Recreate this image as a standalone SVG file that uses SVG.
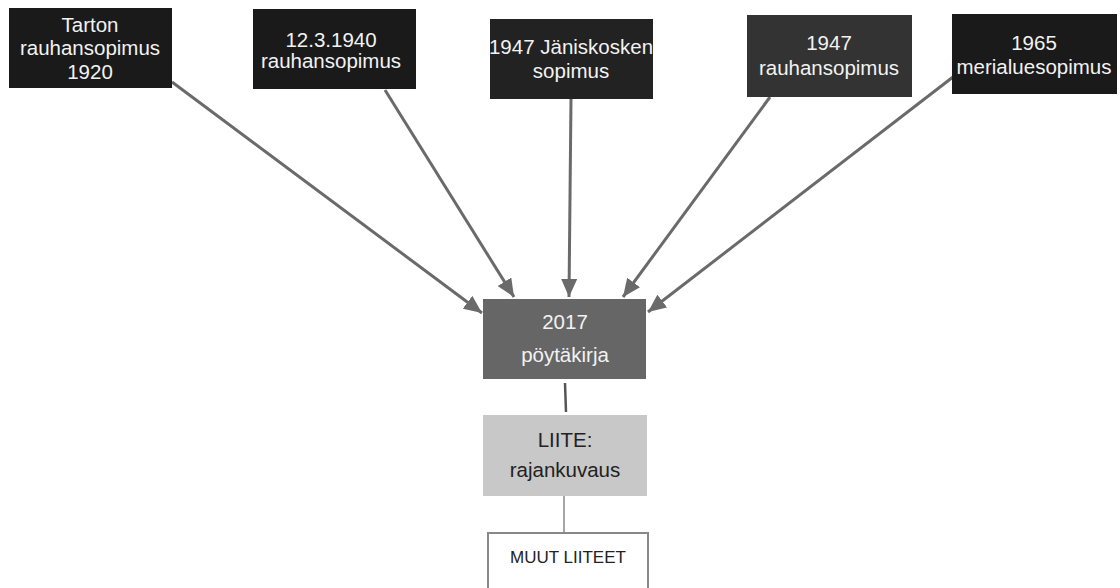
<svg xmlns="http://www.w3.org/2000/svg" width="1120" height="588" viewBox="0 0 1120 588">
<style>
.t{font-family:"Liberation Sans",Arial,sans-serif;font-size:20.5px;text-anchor:middle}
.w{fill:#f2f2f2}
.d{fill:#222}
.c{stroke:#6a6a6a;stroke-width:3;fill:none}
</style>
<defs>
<marker id="ah" markerUnits="userSpaceOnUse" markerWidth="20" markerHeight="16" refX="18" refY="8" orient="auto">
<path d="M0,0 L18,8 L0,16 Z" fill="#6a6a6a"/>
</marker>
</defs>
<rect width="1120" height="588" fill="#fff"/>
<g id="connectors">
<line class="c" x1="172" y1="82" x2="482" y2="313" marker-end="url(#ah)"/>
<line class="c" x1="385" y1="90" x2="514" y2="297" marker-end="url(#ah)"/>
<line class="c" x1="571" y1="99" x2="569" y2="297" marker-end="url(#ah)"/>
<line class="c" x1="770" y1="97" x2="623" y2="297" marker-end="url(#ah)"/>
<line class="c" x1="953" y1="77" x2="648" y2="312" marker-end="url(#ah)"/>
<path d="M565,383 L566,412" stroke="#555" stroke-width="2.5" fill="none"/>
<line x1="564" y1="496" x2="564" y2="533" stroke="#888" stroke-width="1.5"/>
</g>
<g id="n1"><rect x="9" y="8" width="163" height="80" fill="#1a1a1a"/>
<text class="t w" x="90" y="32">Tarton</text><text class="t w" x="90" y="55">rauhansopimus</text><text class="t w" x="90" y="79">1920</text></g>
<g id="n2"><rect x="253" y="9" width="163" height="80" fill="#1a1a1a"/>
<text class="t w" x="331" y="47">12.3.1940</text><text class="t w" x="331" y="68">rauhansopimus</text></g>
<g id="n3"><rect x="490" y="19" width="163" height="80" fill="#222"/>
<text class="t w" x="571" y="54">1947 Jäniskosken</text><text class="t w" x="571" y="78">sopimus</text></g>
<g id="n4"><rect x="747" y="15" width="165" height="82" fill="#333"/>
<text class="t w" x="829" y="50">1947</text><text class="t w" x="829" y="75">rauhansopimus</text></g>
<g id="n5"><rect x="952" y="14" width="165" height="80" fill="#1a1a1a"/>
<text class="t w" x="1034" y="50">1965</text><text class="t w" x="1034" y="74">merialuesopimus</text></g>
<g id="n6"><rect x="483" y="299" width="163" height="80" fill="#666"/>
<text class="t w" x="565" y="329">2017</text><text class="t w" x="565" y="362">pöytäkirja</text></g>
<g id="n7"><rect x="483" y="415" width="164" height="81" fill="#c8c8c8"/>
<text class="t d" x="565" y="447">LIITE:</text><text class="t d" x="565" y="477">rajankuvaus</text></g>
<g id="n8"><rect x="488" y="533" width="160" height="70" fill="#fff" stroke="#888" stroke-width="2"/>
<text class="t d" x="568" y="563" style="font-size:17px">MUUT LIITEET</text></g>
</svg>
